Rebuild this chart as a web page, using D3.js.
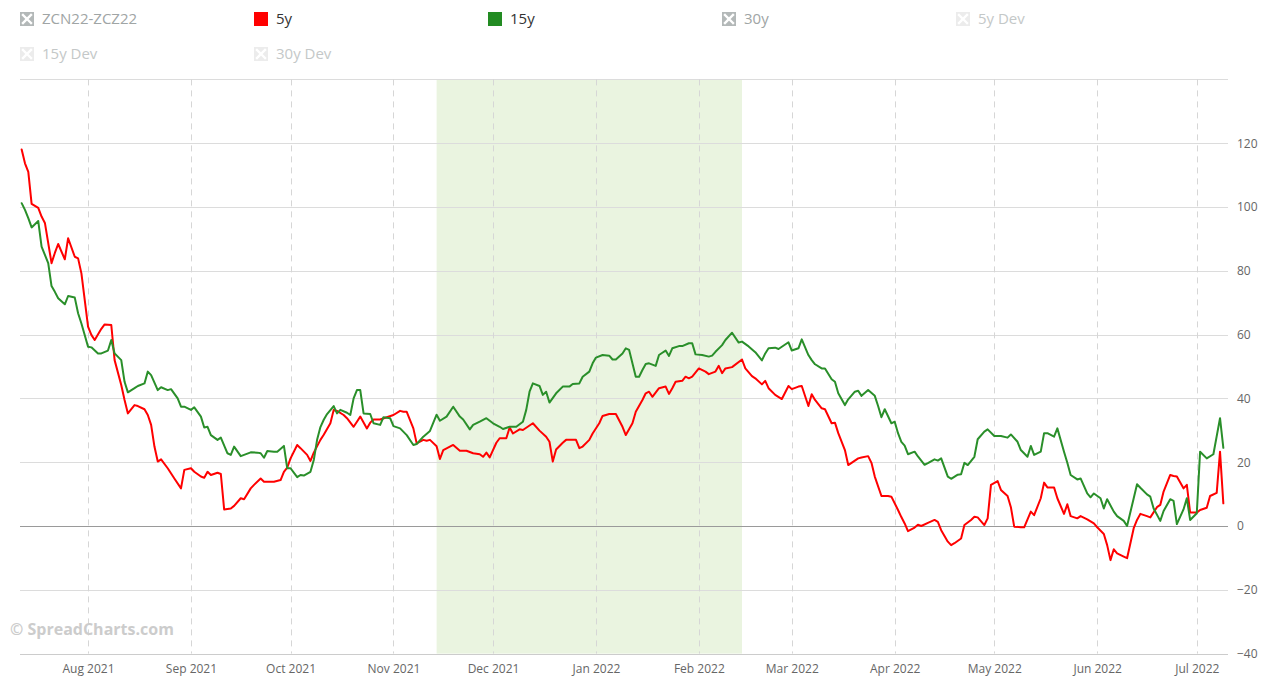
<!DOCTYPE html>
<html>
<head>
<meta charset="utf-8">
<script src="https://cdn.jsdelivr.net/npm/d3@7/dist/d3.min.js"></script>
<style>
  html, body { margin: 0; padding: 0; background: #fff; }
  svg { display: block; font-family: "Open Sans", "Noto Sans", sans-serif; }
</style>
</head>
<body>
<svg id="chart" width="1270" height="683"></svg>
<script>
// ---------------- data ----------------
const legendItems = [
  { name: "ZCN22-ZCZ22", state: "hidden" },
  { name: "5y", state: "on", color: "#ff0000" },
  { name: "15y", state: "on", color: "#228b22" },
  { name: "30y", state: "hidden" },
  { name: "5y Dev", state: "faded" },
  { name: "15y Dev", state: "faded" },
  { name: "30y Dev", state: "faded" }
];
const yTicks = [-40, -20, 0, 20, 40, 60, 80, 100, 120, 140];
const yLabels = [-40, -20, 0, 20, 40, 60, 80, 100, 120];
const xDomain = ["2021-07-11T12:00", "2022-07-09T12:00"];
const band = ["2021-11-14", "2022-02-14"];

const series5y = [
["2021-07-12",118],["2021-07-13",113.7],["2021-07-14",111],["2021-07-15",101],["2021-07-17",99.7],["2021-07-18",97],["2021-07-19",95],["2021-07-21",82.4],["2021-07-22",85.6],["2021-07-23",88.4],["2021-07-25",83.6],["2021-07-26",90.2],["2021-07-28",84.4],["2021-07-29",83.9],["2021-07-30",79.2],
["2021-08-01",62.5],["2021-08-02",59.9],["2021-08-03",58.3],["2021-08-05",61.8],["2021-08-06",63.2],["2021-08-08",63],["2021-08-09",52],["2021-08-11",44.2],["2021-08-12",39.5],["2021-08-13",35.3],["2021-08-15",37.9],["2021-08-16",37.6],["2021-08-18",36.6],["2021-08-19",34.8],["2021-08-20",31.7],["2021-08-21",24.9],["2021-08-22",20.2],["2021-08-23",20.9],["2021-08-25",18.1],["2021-08-27",14.9],["2021-08-29",11.8],["2021-08-30",17.6],
["2021-09-01",18.1],["2021-09-02",17],["2021-09-04",15.5],["2021-09-05",15.1],["2021-09-06",17],["2021-09-07",16],["2021-09-09",16.7],["2021-09-10",16.3],["2021-09-11",5.2],["2021-09-13",5.5],["2021-09-14",6.3],["2021-09-16",8.7],["2021-09-17",8.4],["2021-09-19",11.8],["2021-09-20",12.9],["2021-09-22",14.9],["2021-09-23",13.9],["2021-09-25",13.9],["2021-09-26",13.9],["2021-09-28",14.4],["2021-09-29",17],["2021-09-30",18.3],
["2021-10-01",21.2],["2021-10-03",25.4],["2021-10-04",24.4],["2021-10-06",22.3],["2021-10-07",20.4],["2021-10-08",23],["2021-10-10",27],["2021-10-11",28.6],["2021-10-13",32.2],["2021-10-14",36.4],["2021-10-15",36.1],["2021-10-17",34.8],["2021-10-18",33.8],["2021-10-20",31.1],["2021-10-21",32.7],["2021-10-22",34.3],["2021-10-24",30.6],["2021-10-25",32.4],["2021-10-26",33.4],["2021-10-28",33.4],["2021-10-30",34.1],
["2021-11-01",34.8],["2021-11-03",36.1],["2021-11-04",35.8],["2021-11-05",35.8],["2021-11-07",30.6],["2021-11-08",25.9],["2021-11-10",27],["2021-11-11",26.7],["2021-11-12",27],["2021-11-14",25],["2021-11-15",21],["2021-11-16",23.8],["2021-11-19",25.4],["2021-11-21",23.6],["2021-11-23",23.6],["2021-11-25",22.8],["2021-11-27",22.5],["2021-11-28",21.7],["2021-11-29",23],["2021-11-30",21.5],
["2021-12-02",26.1],["2021-12-03",27.5],["2021-12-05",27.5],["2021-12-06",30.9],["2021-12-07",29],["2021-12-09",30.3],["2021-12-10",30.1],["2021-12-13",32.2],["2021-12-15",29.9],["2021-12-17",28],["2021-12-18",26.4],["2021-12-19",20.2],["2021-12-20",24],["2021-12-22",26.1],["2021-12-23",27],["2021-12-26",27],["2021-12-27",24.4],["2021-12-28",24.9],["2021-12-30",27],["2021-12-31",29],
["2022-01-02",32.2],["2022-01-03",34.5],["2022-01-05",35.1],["2022-01-07",35.1],["2022-01-09",31.1],["2022-01-10",28.5],["2022-01-12",32.2],["2022-01-13",35.8],["2022-01-15",39.5],["2022-01-16",41.6],["2022-01-17",42.1],["2022-01-18",40.5],["2022-01-20",43.2],["2022-01-22",43.7],["2022-01-23",41.4],["2022-01-24",43.2],["2022-01-25",45.2],["2022-01-27",45.5],["2022-01-28",46.8],["2022-01-29",46.3],["2022-01-30",46.8],
["2022-02-01",49.4],["2022-02-03",48.4],["2022-02-04",47.6],["2022-02-06",48.4],["2022-02-07",50.2],["2022-02-08",47.9],["2022-02-09",49.4],["2022-02-11",49.8],["2022-02-14",52.2],["2022-02-15",49.4],["2022-02-17",47],["2022-02-18",46.3],["2022-02-20",44.4],["2022-02-21",45.5],["2022-02-22",43.2],["2022-02-24",41.1],["2022-02-26",39.8],["2022-02-28",43.9],
["2022-03-01",42.9],["2022-03-03",43.7],["2022-03-04",43.9],["2022-03-06",37.6],["2022-03-07",41.3],["2022-03-08",39.5],["2022-03-10",36.9],["2022-03-11",36.6],["2022-03-13",32.2],["2022-03-14",32.4],["2022-03-15",29.1],["2022-03-17",23.8],["2022-03-18",19.1],["2022-03-19",19.8],["2022-03-21",21.2],["2022-03-22",21.5],["2022-03-24",21.9],["2022-03-25",19.8],["2022-03-26",15.5],["2022-03-28",9.4],["2022-03-30",9.4],["2022-03-31",9.2],
["2022-04-02",5],["2022-04-03",2.8],["2022-04-04",0.8],["2022-04-05",-1.6],["2022-04-07",-0.5],["2022-04-08",0.4],["2022-04-09",0],["2022-04-11",1],["2022-04-13",1.9],["2022-04-14",1.3],["2022-04-15",-1.3],["2022-04-17",-4.9],["2022-04-18",-6],["2022-04-19",-5.4],["2022-04-21",-3.9],["2022-04-22",0.3],["2022-04-24",1.9],["2022-04-25",2.9],["2022-04-26",2.7],["2022-04-28",0.3],["2022-04-29",2.4],["2022-04-30",12.9],
["2022-05-02",14.1],["2022-05-03",11.3],["2022-05-05",9.4],["2022-05-06",5.9],["2022-05-07",-0.2],["2022-05-09",-0.4],["2022-05-10",-0.4],["2022-05-12",4.5],["2022-05-13",3.4],["2022-05-15",8.7],["2022-05-16",13.6],["2022-05-17",12.1],["2022-05-19",12.1],["2022-05-20",8.7],["2022-05-22",3.8],["2022-05-23",6.8],["2022-05-24",3.1],["2022-05-26",2.4],["2022-05-27",3.1],["2022-05-29",2.1],["2022-05-31",0.8],
["2022-06-01",-0.4],["2022-06-03",-2.5],["2022-06-04",-6],["2022-06-05",-10.7],["2022-06-06",-7.3],["2022-06-07",-8.6],["2022-06-09",-9.6],["2022-06-10",-10.1],["2022-06-12",-0.7],["2022-06-13",1.9],["2022-06-14",3.8],["2022-06-16",3.1],["2022-06-17",2.7],["2022-06-19",5.9],["2022-06-20",6.6],["2022-06-21",10.8],["2022-06-23",16],["2022-06-24",15.7],["2022-06-25",15.5],["2022-06-27",11.8],["2022-06-28",12.9],["2022-06-29",4.2],
["2022-07-01",4.2],["2022-07-02",5],["2022-07-04",5.7],["2022-07-05",9.4],["2022-07-07",10.4],["2022-07-08",23.3],["2022-07-09",7.1]
];

const series15y = [
["2021-07-12",101.2],["2021-07-13",99.1],["2021-07-14",96.5],["2021-07-15",93.6],["2021-07-17",95.6],["2021-07-18",87.6],["2021-07-19",85],["2021-07-20",82.4],["2021-07-21",75.2],["2021-07-22",73.4],["2021-07-23",71.4],["2021-07-25",69.5],["2021-07-26",72.1],["2021-07-28",71.6],["2021-07-29",66.7],["2021-07-30",63.5],
["2021-08-01",56.2],["2021-08-02",56],["2021-08-04",54.1],["2021-08-05",54.1],["2021-08-07",55],["2021-08-08",58.3],["2021-08-09",54.1],["2021-08-11",52],["2021-08-12",45.2],["2021-08-13",41.9],["2021-08-15",43.2],["2021-08-16",43.9],["2021-08-18",44.7],["2021-08-19",48.4],["2021-08-20",47.3],["2021-08-22",42.6],["2021-08-23",43.5],["2021-08-25",42.6],["2021-08-26",42.9],["2021-08-28",40],["2021-08-29",37.4],["2021-08-30",37.4],
["2021-09-01",36.4],["2021-09-02",37.2],["2021-09-04",34.3],["2021-09-05",30.9],["2021-09-06",31.1],["2021-09-07",28.5],["2021-09-09",27],["2021-09-10",27.7],["2021-09-12",22.8],["2021-09-13",22.3],["2021-09-14",24.9],["2021-09-16",21.9],["2021-09-17",22.3],["2021-09-19",23.1],["2021-09-21",23],["2021-09-22",22.8],["2021-09-23",21.4],["2021-09-24",23.5],["2021-09-26",23.3],["2021-09-27",23.3],["2021-09-29",25.1],["2021-09-30",18.1],
["2021-10-01",18.1],["2021-10-03",15.3],["2021-10-04",16],["2021-10-05",15.8],["2021-10-07",17],["2021-10-08",20.7],["2021-10-09",27],["2021-10-10",31],["2021-10-11",33.3],["2021-10-12",35.1],["2021-10-14",37.6],["2021-10-15",35.3],["2021-10-16",36.4],["2021-10-18",35.5],["2021-10-19",34.8],["2021-10-20",40],["2021-10-21",42.6],["2021-10-22",42.6],["2021-10-23",35.3],["2021-10-25",35.1],["2021-10-26",32.2],["2021-10-28",31.7],["2021-10-29",34.1],["2021-10-31",33.8],
["2021-11-01",31.3],["2021-11-03",30.6],["2021-11-05",28.5],["2021-11-07",25.4],["2021-11-08",25.7],["2021-11-10",28],["2021-11-12",29.8],["2021-11-14",34.9],["2021-11-15",33],["2021-11-17",34.3],["2021-11-19",37.4],["2021-11-21",34.3],["2021-11-22",33.4],["2021-11-24",30.3],["2021-11-25",31.7],["2021-11-27",32.7],["2021-11-29",33.8],
["2021-12-01",32.2],["2021-12-03",31.1],["2021-12-04",30.4],["2021-12-06",31.1],["2021-12-08",31.1],["2021-12-10",32.7],["2021-12-11",36.4],["2021-12-12",42.1],["2021-12-13",44.7],["2021-12-15",43.9],["2021-12-16",41.1],["2021-12-17",42.1],["2021-12-18",38.7],["2021-12-20",41.6],["2021-12-22",43.7],["2021-12-24",43.7],["2021-12-25",44.5],["2021-12-27",44.7],["2021-12-28",46.8],["2021-12-30",48.4],["2021-12-31",51],
["2022-01-01",52.8],["2022-01-03",53.6],["2022-01-05",53.4],["2022-01-06",52.2],["2022-01-07",52.2],["2022-01-09",54.1],["2022-01-10",55.7],["2022-01-11",55.2],["2022-01-13",46.8],["2022-01-14",46.8],["2022-01-15",48.9],["2022-01-16",50.8],["2022-01-17",51],["2022-01-19",50.2],["2022-01-20",53.6],["2022-01-21",54.3],["2022-01-22",55],["2022-01-23",53.3],["2022-01-24",55.7],["2022-01-26",56.4],["2022-01-27",56.4],["2022-01-29",57.3],["2022-01-30",57.3],["2022-01-31",53.8],
["2022-02-02",53.6],["2022-02-04",53.1],["2022-02-05",53.4],["2022-02-06",54.6],["2022-02-08",56.7],["2022-02-09",58.3],["2022-02-11",60.6],["2022-02-13",57.5],["2022-02-14",57.8],["2022-02-16",56.3],["2022-02-18",54.5],["2022-02-20",51.9],["2022-02-21",54.1],["2022-02-22",55.7],["2022-02-24",55.9],["2022-02-25",55.5],["2022-02-26",56.2],["2022-02-28",57.6],
["2022-03-01",55],["2022-03-03",55.7],["2022-03-04",58.5],["2022-03-06",53.6],["2022-03-07",52],["2022-03-08",50.7],["2022-03-10",49.4],["2022-03-11",49.4],["2022-03-13",46],["2022-03-14",45.2],["2022-03-15",41.6],["2022-03-17",37.9],["2022-03-18",39.7],["2022-03-20",42.1],["2022-03-21",42.4],["2022-03-22",40.8],["2022-03-24",42.6],["2022-03-26",40.8],["2022-03-27",37.6],["2022-03-28",34.1],["2022-03-29",36.6],["2022-03-31",32.2],
["2022-04-01",32.7],["2022-04-02",29.1],["2022-04-03",26.4],["2022-04-04",25.2],["2022-04-05",22.5],["2022-04-07",23.3],["2022-04-08",21.8],["2022-04-10",19.2],["2022-04-11",19.7],["2022-04-13",20.9],["2022-04-14",20.5],["2022-04-15",21.2],["2022-04-17",15.5],["2022-04-18",14.8],["2022-04-20",16.1],["2022-04-21",16.2],["2022-04-22",19.8],["2022-04-23",19.1],["2022-04-25",21.7],["2022-04-26",27.2],["2022-04-28",29.6],["2022-04-29",30.3],
["2022-05-01",28.2],["2022-05-03",28.2],["2022-05-05",27.7],["2022-05-06",28.7],["2022-05-08",26.4],["2022-05-09",23.8],["2022-05-11",21.7],["2022-05-12",25.1],["2022-05-13",22.3],["2022-05-15",23.3],["2022-05-16",29.1],["2022-05-17",29.1],["2022-05-19",28],["2022-05-20",30.6],["2022-05-22",23.3],["2022-05-23",19.8],["2022-05-24",16],["2022-05-26",14.6],["2022-05-27",14.9],["2022-05-29",10.2],["2022-05-30",9],["2022-05-31",10.2],
["2022-06-02",8.7],["2022-06-03",5.5],["2022-06-04",8.4],["2022-06-06",4.5],["2022-06-07",3.1],["2022-06-09",1.6],["2022-06-10",0],["2022-06-12",8.7],["2022-06-13",13.1],["2022-06-14",12],["2022-06-16",9.9],["2022-06-17",9.2],["2022-06-18",5.5],["2022-06-20",1.6],["2022-06-21",4.7],["2022-06-23",8.4],["2022-06-24",7.9],["2022-06-25",0.6],["2022-06-27",5.2],["2022-06-28",8.7],["2022-06-29",1.9],
["2022-07-01",4],["2022-07-02",23.3],["2022-07-04",21.2],["2022-07-06",22.5],["2022-07-08",33.8],["2022-07-09",24.5]
];

// ---------------- layout ----------------
const svg = d3.select("#chart");
const plotLeft = 20, plotRight = 1228, lineRight = 1225;
const yTop = 79.4, yBottom = 653.6;

const parse = d3.timeParse("%Y-%m-%d");
const parseT = d3.timeParse("%Y-%m-%dT%H:%M");

const x = d3.scaleTime()
  .domain(xDomain.map(parseT))
  .range([plotLeft, lineRight]);
const y = d3.scaleLinear().domain([-40, 140]).range([yBottom, yTop]);

// shaded band
svg.append("rect")
  .attr("x", x(parse(band[0])))
  .attr("y", yTop)
  .attr("width", x(parse(band[1])) - x(parse(band[0])))
  .attr("height", yBottom - yTop)
  .attr("fill", "#eaf4e0");

// horizontal gridlines
svg.append("g").selectAll("line").data(yTicks).join("line")
  .attr("x1", plotLeft).attr("x2", plotRight)
  .attr("y1", d => Math.round(y(d)) + 0.5).attr("y2", d => Math.round(y(d)) + 0.5)
  .attr("stroke", d => d === 0 ? "#9a9a9a" : (d === -40 ? "#cccccc" : "#dcdcdc"))
  .attr("stroke-width", 1);

// vertical dashed month gridlines
const months = x.ticks(d3.timeMonth.every(1));
svg.append("g").selectAll("line").data(months).join("line")
  .attr("x1", d => Math.round(x(d)) + 0.5).attr("x2", d => Math.round(x(d)) + 0.5)
  .attr("y1", yTop).attr("y2", yBottom)
  .attr("stroke", "#d6d6d6")
  .attr("stroke-dasharray", "6,5")
  .attr("stroke-width", 1);

// lines
const line = d3.line()
  .x(d => x(parse(d[0])))
  .y(d => y(d[1]));

svg.append("path").datum(series5y)
  .attr("d", line).attr("fill", "none")
  .attr("stroke", "#ff0000").attr("stroke-width", 2)
  .attr("stroke-linejoin", "round").attr("stroke-linecap", "round");

svg.append("path").datum(series15y)
  .attr("d", line).attr("fill", "none")
  .attr("stroke", "#2a8f2a").attr("stroke-width", 2)
  .attr("stroke-linejoin", "round").attr("stroke-linecap", "round");

// x axis labels
const xAxis = d3.axisBottom(x)
  .ticks(d3.timeMonth.every(1))
  .tickFormat(d3.timeFormat("%b %Y"))
  .tickSize(0).tickPadding(10);
const gx = svg.append("g").attr("transform", `translate(0,${yBottom + 1})`).call(xAxis);
gx.select(".domain").remove();
gx.selectAll("text").attr("fill", "#666").style("font-size", "12px")
  .style("font-family", "'Open Sans', sans-serif");

// y axis labels (right)
const yAxis = d3.axisRight(y).tickValues(yLabels).tickSize(0).tickPadding(9);
const gy = svg.append("g").attr("transform", `translate(${plotRight},0)`).call(yAxis);
gy.select(".domain").remove();
gy.selectAll("text").attr("fill", "#666").style("font-size", "12px")
  .style("font-family", "'Open Sans', sans-serif");

// watermark
svg.append("text")
  .attr("x", 10).attr("y", 635)
  .attr("fill", "#cccccc")
  .style("font-size", "16px").style("font-weight", "bold")
  .style("font-family", "'Open Sans', sans-serif")
  .text("\u00A9 SpreadCharts.com");

// legend
const legend = svg.append("g");
legendItems.forEach((it, i) => {
  const col = i < 5 ? i : i - 5;
  const row = i < 5 ? 0 : 1;
  const gx0 = 20 + col * 234;
  const gy0 = 19 + row * 35;
  const g = legend.append("g").attr("transform", `translate(${gx0},${gy0})`);
  if (it.state === "on") {
    g.append("rect").attr("x", 0).attr("y", -7).attr("width", 14).attr("height", 14)
      .attr("fill", it.color);
  } else {
    const bg = it.state === "hidden" ? "#b3b8b8" : "#ececec";
    g.append("rect").attr("x", 0).attr("y", -7).attr("width", 14).attr("height", 14)
      .attr("fill", bg);
    g.append("path")
      .attr("d", "M3,-4 L11,4 M11,-4 L3,4")
      .attr("stroke", "#fff").attr("stroke-width", 2.4).attr("stroke-linecap", "square");
  }
  const tcol = it.state === "on" ? "#333" : (it.state === "hidden" ? "#a0a5a5" : "#c4c8c8");
  g.append("text").attr("x", 22).attr("y", 0).attr("dy", "0.35em")
    .attr("fill", tcol)
    .style("font-size", "15px")
    .style("font-family", "'Open Sans', sans-serif")
    .text(it.name);
});
</script>
</body>
</html>
